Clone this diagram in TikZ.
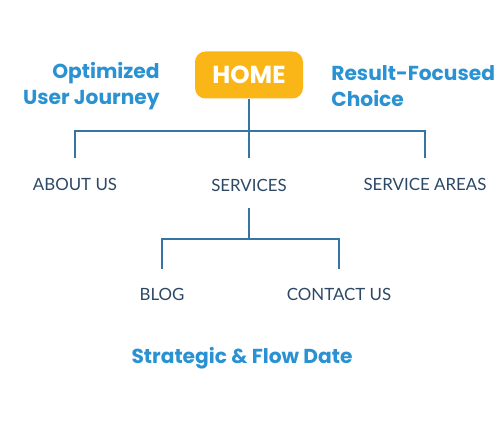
\documentclass[tikz,border=0pt]{standalone}
\usepackage{fontspec}
\setmainfont{Lato}
\newfontfamily\headfont{Poppins}
\usepackage{tikz}
\usetikzlibrary{positioning}
\definecolor{homegold}{RGB}{250,182,22}
\definecolor{linkblue}{RGB}{52,117,163}
\definecolor{navytext}{RGB}{44,72,101}
\definecolor{headblue}{RGB}{42,146,210}
\tikzset{
  homebox/.style={fill=homegold,rounded corners=6pt,minimum width=2.16cm,
    minimum height=0.94cm,text=white,font=\headfont\bfseries\fontsize{14}{16}\selectfont},
  pagelabel/.style={text=navytext,inner sep=0pt,font=\fontsize{9.6}{11}\selectfont},
  headline/.style={text=headblue,inner sep=0pt,
    font=\headfont\bfseries\fontsize{11.5}{14.5}\selectfont},
  branch/.style={linkblue,line width=1.2pt}
}
\begin{document}
\begin{tikzpicture}
  \useasboundingbox (0,0) rectangle (10,8.4);
  % top level
  \node[homebox] (home) at (4.98,6.9) {HOME};
  \node[headline,anchor=east,align=right] (journey) at (3.2,6.68)
    {Optimized\\User Journey};
  \node[headline,anchor=west,align=left] (choice) at (6.62,6.68)
    {Result-Focused\\Choice};
  % second level
  \node[pagelabel] (about) at (1.5,4.72) {ABOUT US};
  \node[pagelabel] (services) at (4.98,4.70) {SERVICES};
  \node[pagelabel] (areas) at (8.5,4.72) {SERVICE AREAS};
  % third level
  \node[pagelabel] (blog) at (3.24,2.52) {BLOG};
  \node[pagelabel] (contact) at (6.78,2.52) {CONTACT US};
  \node[headline] (flow) at (4.84,1.24) {Strategic \& Flow Date};
  % tree lines
  \coordinate (split1) at (4.98,5.78);
  \coordinate (drop1) at (0,5.24);
  \coordinate (stem2) at (0,4.24);
  \coordinate (split2) at (4.98,3.62);
  \coordinate (drop2) at (0,3.02);
  \draw[branch] (home.south) -- (split1);
  \draw[branch] (about |- drop1) -- (about |- split1) -- (areas |- split1)
    -- (areas |- drop1);
  \draw[branch] (split1) -- (services |- drop1);
  \draw[branch] (services |- stem2) -- (split2);
  \draw[branch] (blog |- drop2) -- (blog |- split2) -- (contact |- split2)
    -- (contact |- drop2);
\end{tikzpicture}
\end{document}
